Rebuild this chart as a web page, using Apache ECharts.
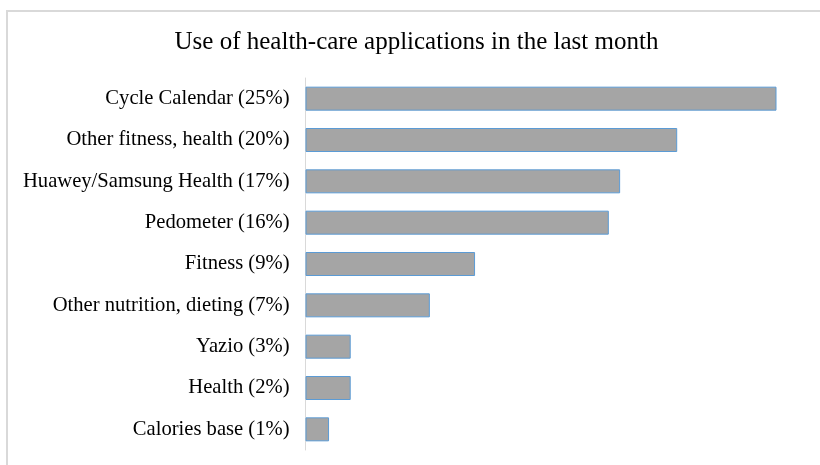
<!DOCTYPE html>
<html>
<head>
<meta charset="utf-8">
<script src="https://cdn.jsdelivr.net/npm/echarts@6/dist/echarts.min.js"></script>
<style>html,body{margin:0;padding:0;background:#fff;}#c{width:820px;height:465px;}</style>
</head>
<body>
<div id="c"></div>
<script>
const titleText = 'Use of health-care applications in the last month';
const categories = [
  'Cycle Calendar (25%)',
  'Other fitness, health (20%)',
  'Huawey/Samsung Health (17%)',
  'Pedometer (16%)',
  'Fitness (9%)',
  'Other nutrition, dieting (7%)',
  'Yazio (3%)',
  'Health (2%)',
  'Calories base (1%)'
];
const values = [25, 19.73, 16.7, 16.1, 9.0, 6.6, 2.4, 2.4, 1.25];

const chart = echarts.init(document.getElementById('c'), null, {renderer: 'canvas'});
chart.setOption({
  animation: false,
  backgroundColor: '#fff',
  graphic: [{
    type: 'rect',
    shape: {x: 7, y: 11, width: 1000, height: 800},
    style: {fill: 'none', stroke: '#d9d9d9', lineWidth: 2},
    silent: true, z: -10
  }, {
    type: 'text',
    x: 416.5, y: 42,
    style: {
      text: titleText,
      fontFamily: 'Liberation Serif', fontSize: 25, fill: '#000',
      align: 'center', verticalAlign: 'middle'
    },
    silent: true
  }],
  grid: {left: 305.5, right: 43.5, top: 78, bottom: 15, containLabel: false},
  xAxis: {
    type: 'value', min: 0, max: 25,
    show: false
  },
  yAxis: {
    type: 'category',
    data: categories,
    inverse: true,
    axisLine: {show: true, lineStyle: {color: '#d9d9d9', width: 1}},
    axisTick: {show: false},
    axisLabel: {
      fontFamily: 'Liberation Serif', fontSize: 20.6, color: '#000', margin: 16
    }
  },
  series: [{
    type: 'bar',
    data: values,
    barWidth: 24,
    itemStyle: {color: '#a5a5a5', borderColor: '#5b9bd5', borderWidth: 1}
  }]
});
</script>
</body>
</html>
